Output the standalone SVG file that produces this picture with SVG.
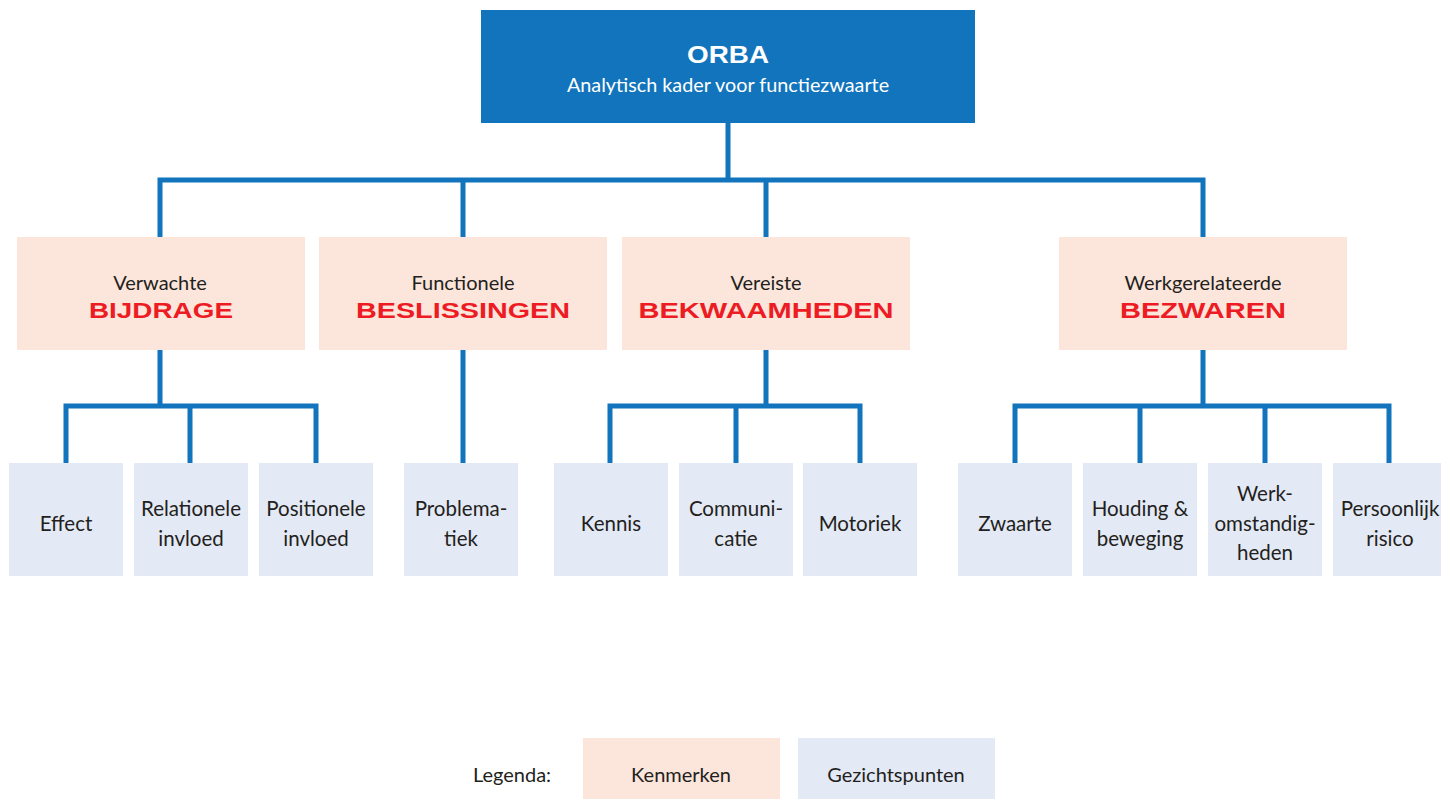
<svg xmlns="http://www.w3.org/2000/svg" width="1441" height="799" viewBox="0 0 1441 799">
<style>
.bg{fill:#ffffff}
.top{fill:#1174BC}
.k{fill:#FCE5DA}
.g{fill:#E3E9F5}
.ln{fill:none;stroke:#1174BC;stroke-width:5;stroke-linecap:square}
.t{font-family:Lato,"Open Sans","Liberation Sans",sans-serif;fill:#231F20;text-anchor:middle}
.s{font-size:20.5px}
.h{font-size:20px}
.l{font-size:20px}
.red{font-family:"Liberation Sans",Arial,sans-serif;font-weight:bold;fill:#ED1C24;font-size:22px;text-anchor:middle}
</style>
<rect class="bg" x="0" y="0" width="1441" height="799"/>
<g id="connectors">
<path class="ln" d="M728 123 V180 M160 180 H1203 M160 180 V237 M463 180 V237 M766 180 V237 M1203 180 V237"/>
<path class="ln" d="M160 350 V406 M66 406 H316 M66 406 V463 M190 406 V463 M316 406 V463"/>
<path class="ln" d="M463 350 V463"/>
<path class="ln" d="M766 350 V406 M610 406 H860 M610 406 V463 M736 406 V463 M860 406 V463"/>
<path class="ln" d="M1203 350 V406 M1015 406 H1389 M1015 406 V463 M1140 406 V463 M1265 406 V463 M1389 406 V463"/>
</g>
<g id="orba">
<rect class="top" x="481" y="10" width="494" height="113"/>
<text x="728" y="63" font-family="'Liberation Sans',Arial,sans-serif" font-weight="bold" font-size="24" fill="#ffffff" text-anchor="middle" textLength="82" lengthAdjust="spacingAndGlyphs">ORBA</text>
<text class="t" x="728" y="92" style="fill:#ffffff;font-size:19.8px">Analytisch kader voor functiezwaarte</text>
</g>
<g id="bijdrage">
<rect class="k" x="17" y="237" width="288" height="113"/>
<text class="t h" x="160" y="290">Verwachte</text>
<text class="red" x="161" y="318" textLength="144" lengthAdjust="spacingAndGlyphs">BIJDRAGE</text>
</g>
<g id="beslissingen">
<rect class="k" x="319" y="237" width="288" height="113"/>
<text class="t h" x="463" y="290">Functionele</text>
<text class="red" x="463" y="318" textLength="214" lengthAdjust="spacingAndGlyphs">BESLISSINGEN</text>
</g>
<g id="bekwaamheden">
<rect class="k" x="622" y="237" width="288" height="113"/>
<text class="t h" x="766" y="290">Vereiste</text>
<text class="red" x="766" y="318" textLength="255" lengthAdjust="spacingAndGlyphs">BEKWAAMHEDEN</text>
</g>
<g id="bezwaren">
<rect class="k" x="1059" y="237" width="288" height="113"/>
<text class="t h" x="1203" y="290">Werkgerelateerde</text>
<text class="red" x="1203" y="318" textLength="166" lengthAdjust="spacingAndGlyphs">BEZWAREN</text>
</g>
<g id="effect"><rect class="g" x="9" y="463" width="114" height="113"/><text class="t s" x="66" y="531">Effect</text></g>
<g id="relationele"><rect class="g" x="134" y="463" width="114" height="113"/><text class="t s" x="191" y="516">Relationele</text><text class="t s" x="191" y="546">invloed</text></g>
<g id="positionele"><rect class="g" x="259" y="463" width="114" height="113"/><text class="t s" x="316" y="516">Positionele</text><text class="t s" x="316" y="546">invloed</text></g>
<g id="problematiek"><rect class="g" x="404" y="463" width="114" height="113"/><text class="t s" x="461" y="516">Problema-</text><text class="t s" x="461" y="546">tiek</text></g>
<g id="kennis"><rect class="g" x="554" y="463" width="114" height="113"/><text class="t s" x="611" y="531">Kennis</text></g>
<g id="communicatie"><rect class="g" x="679" y="463" width="114" height="113"/><text class="t s" x="736" y="516">Communi-</text><text class="t s" x="736" y="546">catie</text></g>
<g id="motoriek"><rect class="g" x="803" y="463" width="114" height="113"/><text class="t s" x="860" y="531">Motoriek</text></g>
<g id="zwaarte"><rect class="g" x="958" y="463" width="114" height="113"/><text class="t s" x="1015" y="531">Zwaarte</text></g>
<g id="houding"><rect class="g" x="1083" y="463" width="114" height="113"/><text class="t s" x="1140" y="516">Houding &amp;</text><text class="t s" x="1140" y="546">beweging</text></g>
<g id="werkomstandigheden"><rect class="g" x="1208" y="463" width="114" height="113"/><text class="t s" x="1265" y="501">Werk-</text><text class="t s" x="1265" y="531">omstandig-</text><text class="t s" x="1265" y="560">heden</text></g>
<g id="persoonlijk"><rect class="g" x="1333" y="463" width="114" height="113"/><text class="t s" x="1390" y="516">Persoonlijk</text><text class="t s" x="1390" y="546">risico</text></g>
<g id="legenda">
<text class="t l" x="512" y="782">Legenda:</text>
<rect class="k" x="583" y="738" width="197" height="61"/>
<text class="t l" x="681" y="782">Kenmerken</text>
<rect class="g" x="798" y="738" width="197" height="61"/>
<text class="t l" x="896" y="782">Gezichtspunten</text>
</g>
</svg>
